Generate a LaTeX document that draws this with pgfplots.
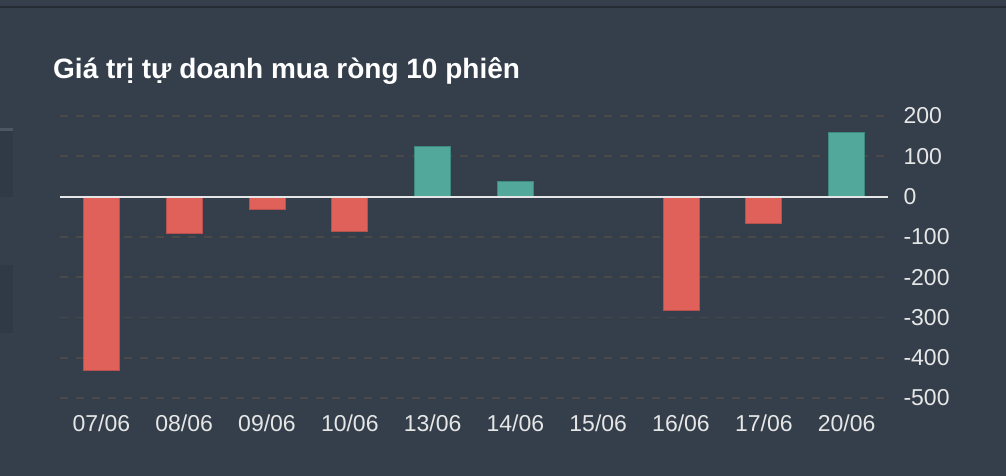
\documentclass[border=0pt]{standalone}
\usepackage{fontspec}
\setmainfont{Liberation Sans}
\usepackage{pgfplots}
\pgfplotsset{compat=1.18}
\definecolor{bg}{HTML}{343F4B}
\definecolor{topline}{HTML}{252C34}
\definecolor{side}{HTML}{2F3A46}
\definecolor{sideedge}{HTML}{4B5763}
\definecolor{gridc}{HTML}{4A4849}
\definecolor{negc}{HTML}{E0605A}
\definecolor{negb}{HTML}{B8514E}
\definecolor{posc}{HTML}{52A99B}
\definecolor{posb}{HTML}{3F8A80}
\definecolor{lbl}{HTML}{E6E6E6}
\begin{document}
\begin{tikzpicture}[x=1pt,y=1pt]
\useasboundingbox (0,0) rectangle (1006,476);
\fill[bg] (0,0) rectangle (1006,476);
\fill[topline] (0,468) rectangle (1006,470);
\fill[side] (0,279) rectangle (13,347);
\fill[sideedge] (0,345) rectangle (13,347.5);
\fill[side] (0,143) rectangle (13,211);
\node[anchor=base west, inner sep=0, text=white, font=\fontsize{28}{30}\selectfont\bfseries] at (53,397) {Giá trị tự doanh mua ròng 10 phiên};
\begin{axis}[
  at={(60pt,78pt)}, anchor=south west,
  scale only axis, width=828pt, height=282pt,
  xmin=-0.5, xmax=9.5, ymin=-500, ymax=200,
  axis line style={draw=none},
  major tick length=0pt,
  ytick={-500,-400,...,200},
  yticklabel pos=right,
  ymajorgrids=true,
  grid style={gridc, line width=1.6pt, dash pattern=on 8pt off 8pt},
  xtick={0,...,9},
  xticklabels={07/06,08/06,09/06,10/06,13/06,14/06,15/06,16/06,17/06,20/06},
  /pgf/number format/assume math mode=true,
  ticklabel style={text=lbl, font=\fontsize{23}{23}\selectfont},
  yticklabel style={anchor=west, xshift=12pt},
  xticklabel style={yshift=-13pt},
  ybar, bar width=36pt, bar shift=0pt,
  clip=false,
]
\addplot[fill=negc, draw=negb, line width=0.8pt] coordinates {(0,-431) (1,-91) (2,-32) (3,-87) (6,-1) (7,-283) (8,-66)};
\addplot[fill=posc, draw=posb, line width=0.8pt] coordinates {(4,125) (5,38) (9,160)};
\draw[color=lbl, line width=2pt] (axis cs:-0.5,0) -- (axis cs:9.5,0);
\end{axis}
\end{tikzpicture}
\end{document}
